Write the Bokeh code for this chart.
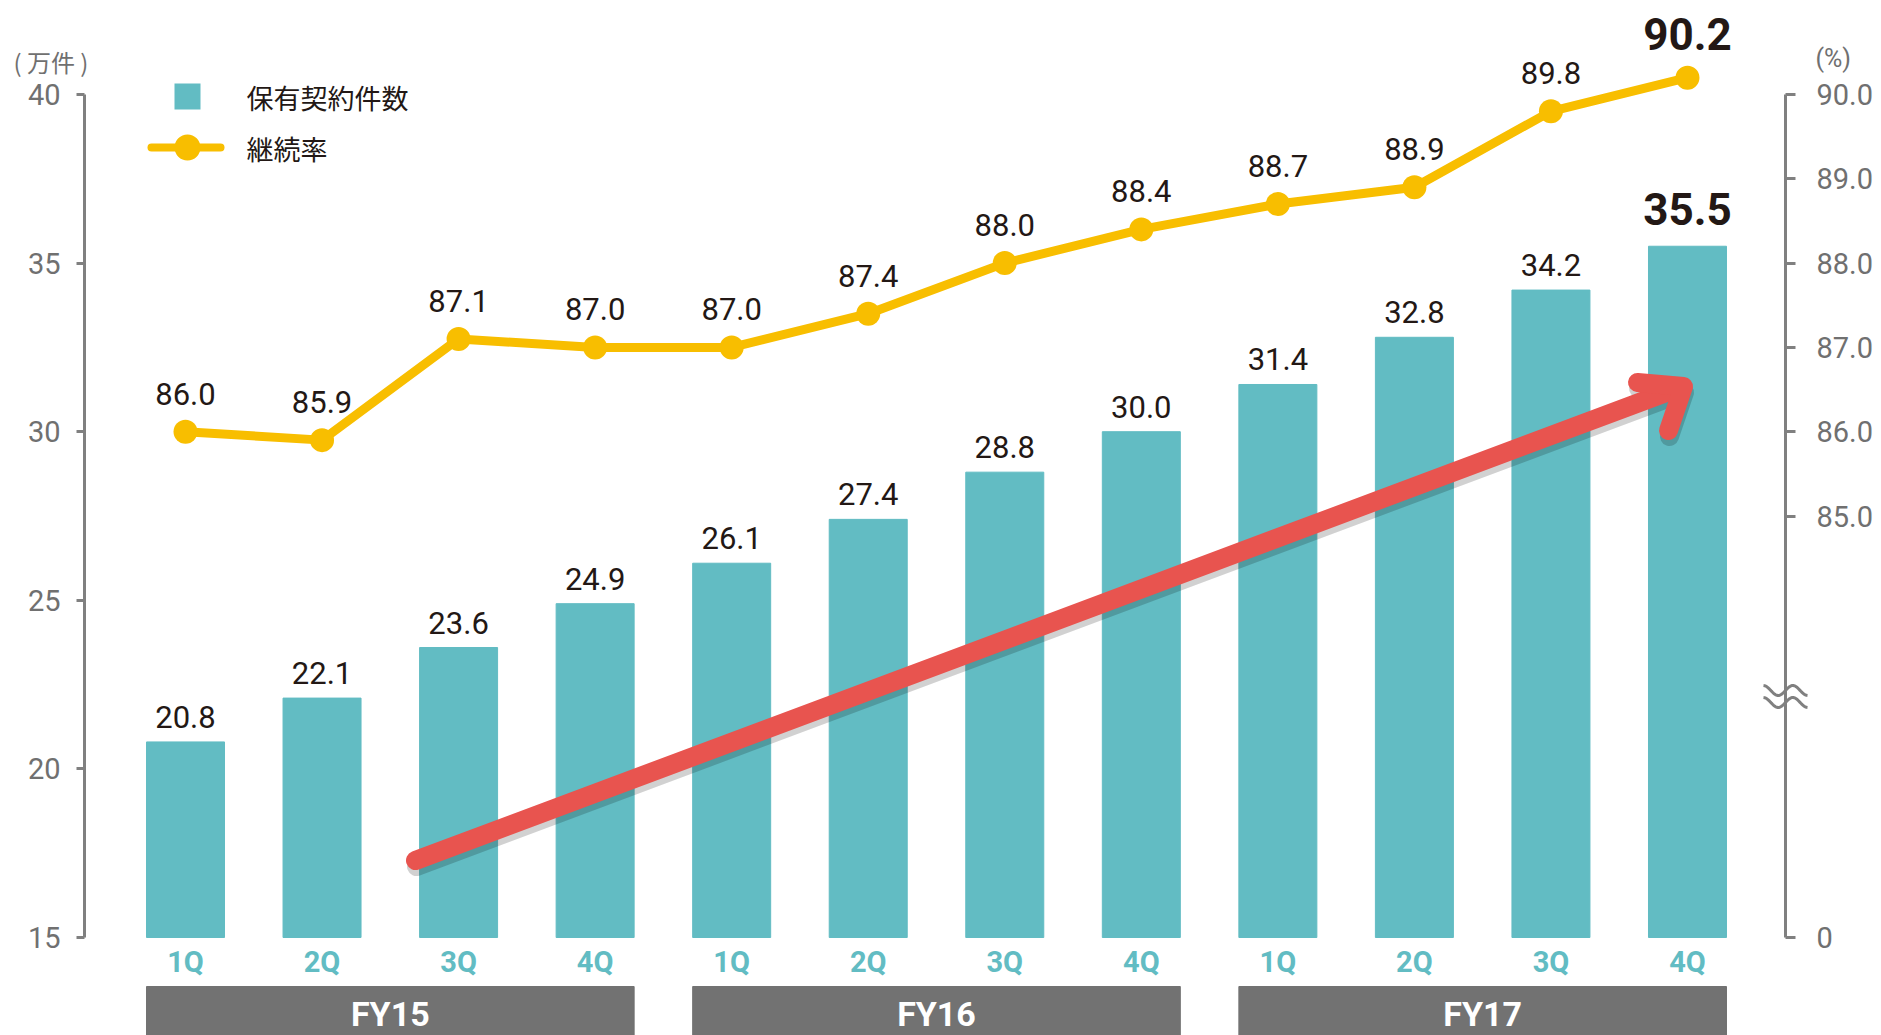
import math
from bokeh.plotting import figure
from bokeh.models import Range1d, LinearAxis, FixedTicker
from bokeh.core.properties import value
from bokeh.embed import file_html
from bokeh.resources import INLINE

# ---------------- data ----------------
quarters = ["1Q", "2Q", "3Q", "4Q", "1Q", "2Q", "3Q", "4Q", "1Q", "2Q", "3Q", "4Q"]
fiscal_years = ["FY15", "FY16", "FY17"]
contracts = [20.8, 22.1, 23.6, 24.9, 26.1, 27.4, 28.8, 30.0, 31.4, 32.8, 34.2, 35.5]   # 万件
retention = [86.0, 85.9, 87.1, 87.0, 87.0, 87.4, 88.0, 88.4, 88.7, 88.9, 89.8, 90.2]   # %
left_ticks = [15, 20, 25, 30, 35, 40]
right_ticks = [80, 85, 86, 87, 88, 89, 90]
right_tick_labels = ["0", "85.0", "86.0", "87.0", "88.0", "89.0", "90.0"]
legend_bar = "保有契約件数"
legend_line = "継続率"
left_unit = "( 万件 )"
right_unit = "(%)"

# ---------------- style ----------------
TEAL = "#62BCC3"
YELLOW = "#F8BE00"
RED = "#E8544F"
DARK = "#231815"
AXIS = "#808080"
TICKTXT = "#707070"
FYGRAY = "#727272"
NUMFONT = value("Roboto")
CJKFONT = value("Noto Sans CJK JP")

W, H = 1881, 1035
AXL, AXR = 84, 1785        # axis line positions in px
X0PX, DXPX = 185.0, 136.545
Y40PX, KPX = 94.0, 33.72   # pixel of value 40, px per unit (left axis)
RATIO = 2.5                # left units per 1 %


def dx(px):
    return (px - X0PX) / DXPX


def dy(py):
    return 40 - (py - Y40PX) / KPX


idx = list(range(len(contracts)))
bw = 78 / DXPX

p = figure(width=W, height=H,
           x_range=Range1d(dx(0), dx(W)),
           y_range=Range1d(dy(H), dy(0)),
           output_backend="svg", toolbar_location=None,
           x_axis_type=None, y_axis_type=None,
           min_border=0, min_border_left=0, min_border_right=0,
           min_border_top=0, min_border_bottom=0)
p.outline_line_color = None
p.grid.visible = False
p.background_fill_color = "white"
p.border_fill_color = "white"

p.extra_y_ranges = {"pct": Range1d(90 + (dy(H) - 40) / RATIO, 90 + (dy(0) - 40) / RATIO)}

# axes (fixed inside the frame)
ax_l = LinearAxis(ticker=FixedTicker(ticks=left_ticks), bounds=(15, 40), fixed_location=dx(AXL))
ax_r = LinearAxis(ticker=FixedTicker(ticks=right_ticks), bounds=(80, 90), y_range_name="pct",
                  fixed_location=dx(AXR),
                  major_label_overrides={t: s for t, s in zip(right_ticks, right_tick_labels)})
for ax, out, stand in ((ax_l, 8, 16), (ax_r, 10, 21)):
    ax.axis_line_color = AXIS
    ax.axis_line_width = 3
    ax.major_tick_line_color = AXIS
    ax.major_tick_line_width = 3
    ax.major_tick_in = 0
    ax.major_tick_out = out
    ax.minor_tick_line_color = None
    ax.major_label_text_font = "Roboto"
    ax.major_label_text_font_size = "29px"
    ax.major_label_text_color = TICKTXT
    ax.major_label_standoff = stand
p.add_layout(ax_l, "left")
p.add_layout(ax_r, "right")

# bars
p.vbar(x=idx, top=contracts, bottom=15, width=bw, color=TEAL)

# arrow (decoration) with shadow
def arrow(off_x, off_y, color, alpha):
    p.line([dx(415 + off_x), dx(1679 + off_x)], [dy(860 + off_y), dy(387 + off_y)],
           line_width=19, line_color=color, line_alpha=alpha, line_cap="round")
    p.line([dx(1637 + off_x), dx(1683 + off_x), dx(1668 + off_x)],
           [dy(382 + off_y), dy(386 + off_y), dy(430 + off_y)],
           line_width=19, line_color=color, line_alpha=alpha, line_cap="round", line_join="round")

arrow(1, 6, "black", 0.18)
arrow(0, 0, RED, 1.0)

# line
p.line(idx, retention, y_range_name="pct", line_width=9, line_color=YELLOW, line_join="round")
p.scatter(idx, retention, y_range_name="pct", size=24, fill_color=YELLOW, line_color=None)

# value labels
p.text(idx[:-1], contracts[:-1], text=[f"{v:.1f}" for v in contracts[:-1]],
       text_align="center", text_baseline="middle", y_offset=-25,
       text_font=NUMFONT, text_font_size="31px", text_color=DARK)
p.text(idx[-1:], contracts[-1:], text=[f"{v:.1f}" for v in contracts[-1:]],
       text_align="center", text_baseline="middle", y_offset=-37,
       text_font=NUMFONT, text_font_size="44px", text_font_style="bold", text_color=DARK)
p.text(idx[:-1], retention[:-1], text=[f"{v:.1f}" for v in retention[:-1]], y_range_name="pct",
       text_align="center", text_baseline="middle", y_offset=-38,
       text_font=NUMFONT, text_font_size="31px", text_color=DARK)
p.text(idx[-1:], retention[-1:], text=[f"{v:.1f}" for v in retention[-1:]], y_range_name="pct",
       text_align="center", text_baseline="middle", y_offset=-44,
       text_font=NUMFONT, text_font_size="44px", text_font_style="bold", text_color=DARK)

# quarter labels
n = len(idx)
p.text(idx, [15] * n, text=quarters, text_align="center", text_baseline="middle", y_offset=24,
       text_font=NUMFONT, text_font_size="29px", text_font_style="bold", text_color=TEAL)

# fiscal-year bands
fy_left = [idx[4 * g] - bw / 2 for g in range(len(fiscal_years))]
fy_right = [idx[4 * g + 3] + bw / 2 for g in range(len(fiscal_years))]
p.quad(left=fy_left, right=fy_right, top=dy(986), bottom=dy(H + 5), color=FYGRAY)
p.text([(a + b) / 2 for a, b in zip(fy_left, fy_right)], [15] * len(fiscal_years), text=fiscal_years,
       text_align="center", text_baseline="middle", y_offset=76,
       text_font=NUMFONT, text_font_size="34px", text_font_style="bold", text_color="white")

# legend (decoration)
p.scatter([dx(187)], [dy(96)], marker="square", size=26, fill_color=TEAL, line_color=None)
p.line([dx(151), dx(220)], [dy(147), dy(147)], line_width=8, line_color=YELLOW, line_cap="round")
p.scatter([dx(187)], [dy(147)], size=26, fill_color=YELLOW, line_color=None)
p.text([dx(246)], [dy(97)], text=[legend_bar], text_baseline="middle", text_align="left",
       text_font=CJKFONT, text_font_size="27px", text_color=DARK)
p.text([dx(246)], [dy(148)], text=[legend_line], text_baseline="middle", text_align="left",
       text_font=CJKFONT, text_font_size="27px", text_color=DARK)

# unit labels
p.text([dx(13)], [dy(61)], text=[left_unit], text_baseline="middle", text_align="left",
       text_font=CJKFONT, text_font_size="24px", text_color=TICKTXT)
p.text([dx(1815)], [dy(58)], text=[right_unit], text_baseline="middle", text_align="left",
       text_font=NUMFONT, text_font_size="25px", text_color=TICKTXT)

# axis break symbol on right axis
for yc in (690, 702):
    pts = [(1763 + 44 * t / 40, yc - 5 * math.cos(3 * math.pi * t / 40)) for t in range(41)]
    p.line([dx(a) for a, b in pts], [dy(b) for a, b in pts], line_width=3, line_color=AXIS)

open("out.html", "w").write(file_html(p, INLINE))
